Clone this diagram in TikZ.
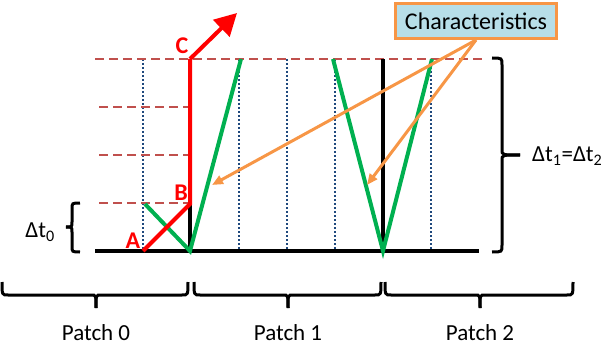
\documentclass[tikz,border=0pt]{standalone}
\usepackage{fontspec}
\setmainfont{Carlito}
\usetikzlibrary{arrows.meta}
\definecolor{dashred}{HTML}{C0504D}
\definecolor{dotblue}{HTML}{1F497D}
\definecolor{ogreen}{HTML}{00B050}
\definecolor{oorange}{HTML}{F79646}
\definecolor{boxblue}{HTML}{B7DEE8}
\begin{document}
\begin{tikzpicture}[x=1pt,y=-1pt,
  baseline/.style={line width=4pt},
  griddash/.style={dashred,line width=2pt,dash pattern=on 9pt off 5pt},
  griddot/.style={dotblue,line width=2pt,dash pattern=on 2pt off 2pt},
  charline/.style={ogreen,line width=4pt},
  redline/.style={red,line width=4pt},
  pointer/.style={oorange,line width=3pt,-{Triangle[length=11pt,width=9pt]}},
  brc/.style={line width=3pt},
  lbl/.style={text=red,font=\fontsize{24}{27}\selectfont\bfseries,inner sep=0pt},
  txt/.style={font=\fontsize{23}{27}\selectfont,inner sep=0pt},
  charbox/.style={draw=oorange,fill=boxblue,line width=3pt,minimum width=161pt,minimum height=35pt,font=\fontsize{24}{28}\selectfont,inner sep=0pt}
]
\useasboundingbox (0,0) rectangle (606,345);
% coordinates
\coordinate (A) at (143,251);
\coordinate (B) at (190,204);
\coordinate (C) at (190,59);
\coordinate (Ctip) at (237,13);
\coordinate (g0a) at (145,204);
\coordinate (g0b) at (190,251);
\coordinate (g0c) at (241,59);
\coordinate (g2a) at (333,59);
\coordinate (g2b) at (383,251);
\coordinate (g2c) at (432,59);
\coordinate (t1) at (212,185);
\coordinate (t2) at (367,185);
% dotted verticals
\foreach \x in {143,239,287,335,431}
  \draw[griddot] (\x,59) -- (\x,251);
% dashed horizontals
\draw[griddash] (95,59) -- (483,59);
\foreach \y in {107,155,203}
  \draw[griddash] (99,\y) -- (190,\y);
% black lines
\draw[baseline] (95,251) -- (479,251);
\draw[baseline] (190,251) -- (B);
\draw[baseline] (383,251) -- (383,59);
% characteristics
\draw[charline] (g0a) -- (g0b) -- (g0c);
\draw[charline] (g2a) -- (g2b) -- (g2c);
% red path
\draw[redline] (A) -- (B) -- (C);
\draw[redline,-{Triangle[length=22pt,width=23pt]}] (C) -- (Ctip);
% labels
\node[lbl] (la) at (133,241) {A};
\node[lbl] (lb) at (181,193) {B};
\node[lbl] (lc) at (182,46) {C};
% box and pointers
\node[charbox] (char) at (476,21) {Characteristics};
\draw[pointer] (char.south) -- (t1);
\draw[pointer] (char.south) -- (t2);
% left brace
\draw[brc] (80,203) .. controls (72,203) .. (72,209) -- (72,222) .. controls (72,227) .. (66,227);
\draw[brc] (66,227) .. controls (72,227) .. (72,232) -- (72,246) .. controls (72,252) .. (80,252);
\node[txt,anchor=east] (dt0) at (55,232) {Δt\textsubscript{0}};
% right brace
\draw[brc] (492,58) .. controls (502,58) .. (502,65) -- (502,150) .. controls (502,155) .. (520,155);
\draw[brc] (520,155) .. controls (502,155) .. (502,160) -- (502,245) .. controls (502,252) .. (492,252);
\node[txt,anchor=west] (dt12) at (532,156) {Δt\textsubscript{1}=Δt\textsubscript{2}};
% patch braces
\foreach \a/\c/\b in {2/96/188, 194/288/381, 385/480/573}{
  \draw[brc] (\a,282) .. controls (\a,295) .. (\a+6,295) -- (\c-5,295) .. controls (\c,295) .. (\c,308);
  \draw[brc] (\c,308) .. controls (\c,295) .. (\c+5,295) -- (\b-6,295) .. controls (\b,295) .. (\b,282);
}
\node[txt,anchor=base] (p0) at (96,340) {Patch 0};
\node[txt,anchor=base] (p1) at (288,340) {Patch 1};
\node[txt,anchor=base] (p2) at (480,340) {Patch 2};
\end{tikzpicture}
\end{document}
